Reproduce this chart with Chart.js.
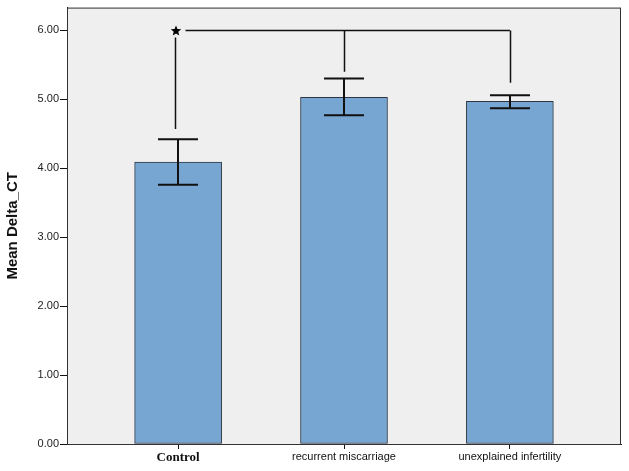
<!DOCTYPE html>
<html>
<head>
<meta charset="utf-8">
<script src="https://cdn.jsdelivr.net/npm/chart.js@4"></script>
<style>
  html, body { margin: 0; padding: 0; background: #fff; }
  #wrap { width: 629px; height: 471px; }
</style>
</head>
<body>
<div id="wrap"><canvas id="deltaChart" width="629" height="471"></canvas></div>
<script>
// Chart data
const categories = ['Control', 'recurrent miscarriage', 'unexplained infertility'];
const means = [4.09, 5.03, 4.97];
const errLow = [3.76, 4.77, 4.87];
const errHigh = [4.42, 5.30, 5.06];
const yTicks = [0, 1, 2, 3, 4, 5, 6];

// significance bracket: joined at 6.00, drops to these levels per group
const bracketLevel = 6.0;
const bracketEnds = [4.57, 5.40, 5.24];

// plot background + frame
const plotBg = {
    id: 'plotBg',
    beforeDraw(chart) {
        const { ctx, chartArea: a } = chart;
        ctx.save();
        ctx.fillStyle = '#efefef';
        ctx.fillRect(a.left, a.top, a.right - a.left, a.bottom - a.top);
        ctx.restore();
    },
    afterDraw(chart) {
        const { ctx, chartArea: a } = chart;
        ctx.save();
        ctx.strokeStyle = '#333';
        ctx.lineWidth = 1;
        ctx.strokeRect(a.left + 0.5, a.top + 0.5, a.right - a.left - 1, a.bottom - a.top);
        ctx.restore();
    }
};

// error bars and the bracket with the star
const errorBars = {
    id: 'errorBars',
    afterDatasetsDraw(chart) {
        const { ctx } = chart;
        const x = chart.scales.x, y = chart.scales.y;
        ctx.save();
        ctx.strokeStyle = '#111';
        ctx.lineWidth = 2;
        means.forEach((m, i) => {
            const cx = Math.round(x.getPixelForValue(i));
            const top = y.getPixelForValue(errHigh[i]);
            const bot = y.getPixelForValue(errLow[i]);
            ctx.beginPath();
            ctx.moveTo(cx, top); ctx.lineTo(cx, bot);
            ctx.moveTo(cx - 20, top); ctx.lineTo(cx + 20, top);
            ctx.moveTo(cx - 20, bot); ctx.lineTo(cx + 20, bot);
            ctx.stroke();
        });

        const by = Math.round(y.getPixelForValue(bracketLevel)) + 0.5;
        const x0 = Math.round(x.getPixelForValue(0)) - 2.5;
        ctx.lineWidth = 1.5;
        ctx.beginPath();
        ctx.moveTo(x0 + 10, by);
        ctx.lineTo(x.getPixelForValue(2), by);
        // drops
        ctx.moveTo(x0, by + 7);
        ctx.lineTo(x0, y.getPixelForValue(bracketEnds[0]));
        [1, 2].forEach(i => {
            const px = Math.round(x.getPixelForValue(i)) + 0.5;
            ctx.moveTo(px, by);
            ctx.lineTo(px, y.getPixelForValue(bracketEnds[i]));
        });
        ctx.stroke();

        // star
        ctx.fillStyle = '#000';
        ctx.beginPath();
        const r1 = 5.5, r2 = 2.4;
        for (let k = 0; k < 10; k++) {
            const r = k % 2 === 0 ? r1 : r2;
            const ang = -Math.PI / 2 + k * Math.PI / 5;
            const px = x0 + 0.5 + r * Math.cos(ang);
            const py = by + 0.5 + r * Math.sin(ang);
            if (k === 0) ctx.moveTo(px, py); else ctx.lineTo(px, py);
        }
        ctx.closePath();
        ctx.fill();
        ctx.restore();
    }
};

const ctx = document.getElementById('deltaChart').getContext('2d');
new Chart(ctx, {
    type: 'bar',
    data: {
        datasets: [{
            data: means.map((v, i) => ({ x: i, y: v })),
            backgroundColor: '#78a6d3',
            borderColor: '#2d3642',
            borderWidth: 1,
            borderSkipped: false,
            barThickness: 87
        }]
    },
    options: {
        responsive: false,
        animation: false,
        layout: { padding: { top: 7, right: 8, left: 0, bottom: 0 } },
        plugins: {
            legend: { display: false },
            tooltip: { enabled: false }
        },
        scales: {
            x: {
                type: 'linear',
                offset: false,
                min: -0.67,
                max: 2.67,
                afterBuildTicks: s => { s.ticks = categories.map((c, i) => ({ value: i })); },
                afterFit: s => { s.height = 27; },
                grid: { offset: false, drawOnChartArea: false, tickLength: 5, color: '#111', lineWidth: 1 },
                border: { color: '#111', width: 1 },
                ticks: {
                    padding: 1,
                    color: '#111',
                    maxRotation: 0,
                    autoSkip: false,
                    callback: v => categories[v],
                    font: c => c.index === 0
                        ? { family: 'Liberation Serif', weight: 'bold', size: 13 }
                        : { family: 'Liberation Sans', size: 11 }
                }
            },
            y: {
                min: 0,
                max: 6.33,
                afterBuildTicks: s => { s.ticks = yTicks.map(v => ({ value: v })); },
                afterFit: s => { s.width = 67; },
                grid: { drawOnChartArea: false, tickLength: 7, color: '#111', lineWidth: 1 },
                border: { color: '#111', width: 1 },
                title: {
                    display: true,
                    text: 'Mean Delta_CT',
                    color: '#111',
                    font: { family: 'Liberation Sans', weight: 'bold', size: 15 },
                    padding: { top: 4, bottom: 0 }
                },
                ticks: {
                    padding: 1,
                    color: '#222',
                    font: { family: 'Liberation Sans', size: 11 },
                    callback: v => v.toFixed(2)
                }
            }
        }
    },
    plugins: [plotBg, errorBars]
});
</script>
</body>
</html>
